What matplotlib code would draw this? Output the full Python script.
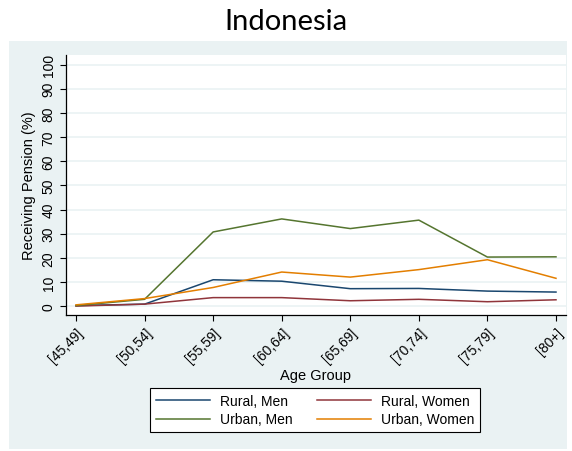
import matplotlib
matplotlib.use("Agg")
import matplotlib.pyplot as plt
from matplotlib.patches import Rectangle

age_groups = ['[45,49]', '[50,54]', '[55,59]', '[60,64]', '[65,69]', '[70,74]', '[75,79]', '[80+]']
rural_men = [0.2, 0.8, 10.9, 10.3, 7.2, 7.3, 6.2, 5.8]
rural_women = [0.0, 0.8, 3.5, 3.5, 2.2, 2.8, 1.8, 2.6]
urban_men = [0.2, 2.8, 30.7, 36.1, 32.1, 35.6, 20.3, 20.4]
urban_women = [0.5, 3.1, 7.7, 14.1, 12.0, 15.1, 19.2, 11.5]

plt.rcParams['font.family'] = ['Liberation Sans', 'DejaVu Sans']

W, H = 572, 452
fig = plt.figure(figsize=(W / 100, H / 100), dpi=100)
fig.patch.set_facecolor('white')

# grey graph region like Stata's s2color scheme
panel_color = '#EAF2F3'
fig.add_artist(Rectangle((9 / W, (H - 450) / H), 558 / W, 408 / H,
                         transform=fig.transFigure, facecolor=panel_color,
                         edgecolor='none', zorder=-10))

fig.text(0.5, 1 - 22 / H, 'Indonesia', ha='center', va='center',
         fontsize=21, family=['Lato', 'DejaVu Sans'])

ax = fig.add_axes([66 / W, (H - 316) / H, 500 / W, 260 / H])
ax.set_zorder(1)
ax.set_facecolor('white')

x = list(range(len(age_groups)))
ax.plot(x, rural_men, color='#1A476F', lw=1.1, label='Rural, Men')
ax.plot(x, rural_women, color='#90353B', lw=1.1, label='Rural, Women')
ax.plot(x, urban_men, color='#55752F', lw=1.1, label='Urban, Men')
ax.plot(x, urban_women, color='#E37E00', lw=1.1, label='Urban, Women')

ax.set_xlim(-0.146, 7.146)
ax.set_ylim(-3.7, 104)
ax.set_yticks(range(0, 101, 10))
ax.set_xticks(x)
ax.set_xticklabels(age_groups, rotation=45, ha='right', rotation_mode='anchor', fontsize=10)
for lab in ax.get_yticklabels():
    lab.set_rotation(90)
    lab.set_va('center')
    lab.set_fontsize(10)
ax.grid(axis='y', color=panel_color, lw=1.2)
ax.set_axisbelow(True)
for s in ['top', 'right']:
    ax.spines[s].set_visible(False)
ax.spines['left'].set_linewidth(0.9)
ax.spines['bottom'].set_linewidth(0.9)
ax.tick_params(direction='out', length=4, width=0.8)

ax.set_ylabel('Receiving Pension (%)', fontsize=10.5, labelpad=4)
ax.set_xlabel('Age Group', fontsize=10.5, labelpad=2)

# Stata fills the legend row by row
handles, labels = ax.get_legend_handles_labels()
order = [0, 2, 1, 3]
leg = fig.legend([handles[i] for i in order], [labels[i] for i in order],
                 ncol=2, loc='center', bbox_to_anchor=(315 / W, 1 - 411 / H),
                 fontsize=10, frameon=True, fancybox=False, framealpha=1,
                 edgecolor='black', handlelength=3.9, handletextpad=0.7,
                 columnspacing=1.8, borderpad=0.4, labelspacing=0.35)
leg.get_frame().set_linewidth(0.8)

fig.savefig('out.png', dpi=100)
